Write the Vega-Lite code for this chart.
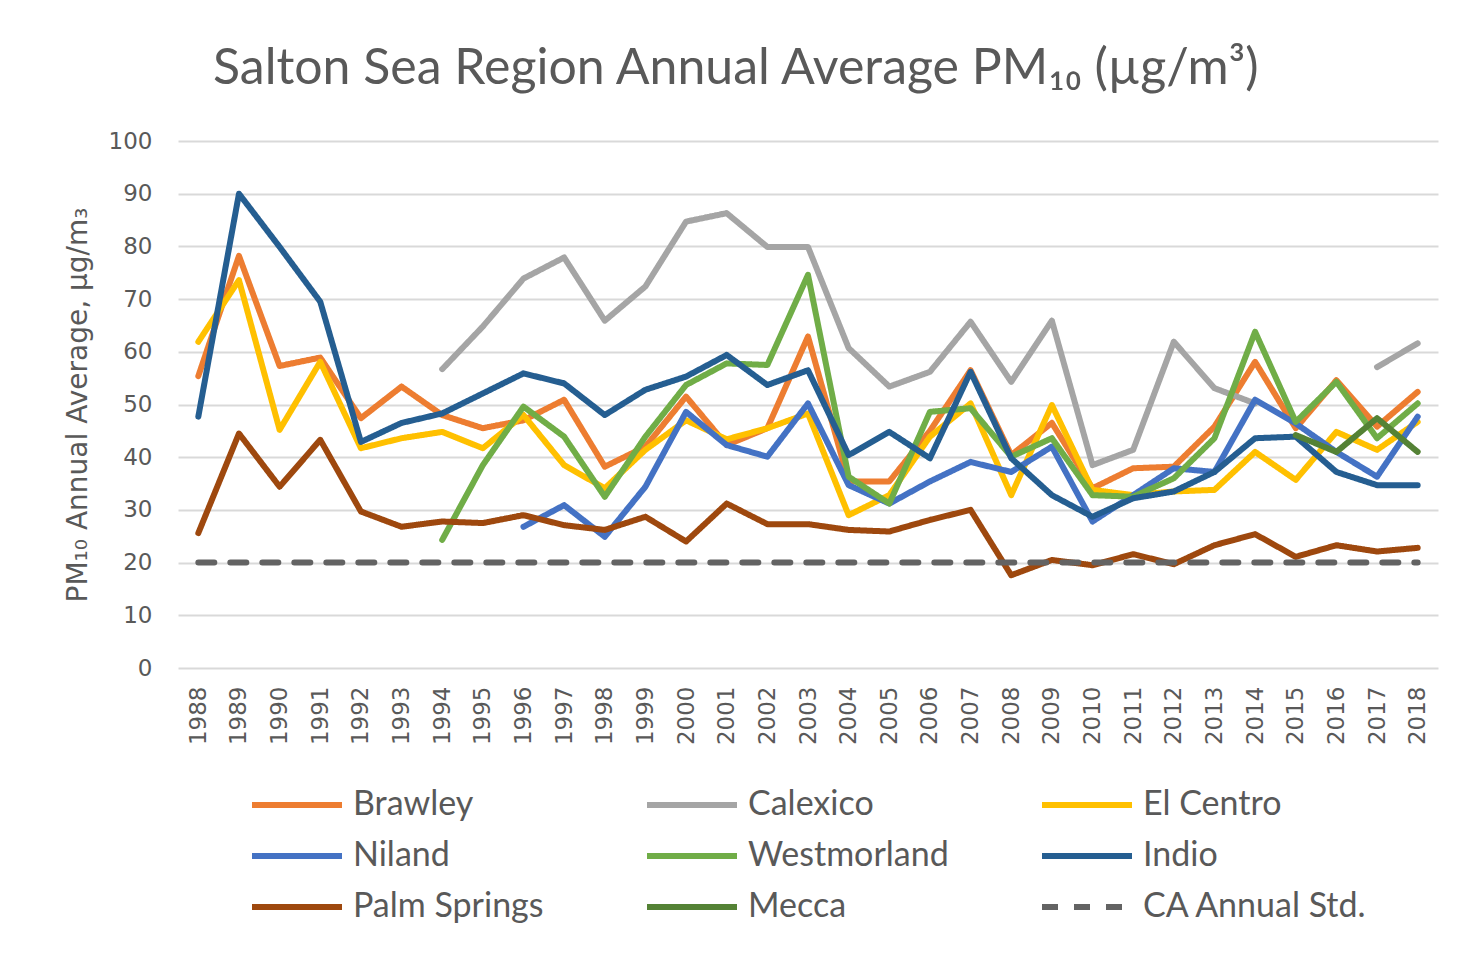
{
  "$schema": "https://vega.github.io/schema/vega-lite/v6.json",
  "width": 1260,
  "height": 527,
  "autosize": {"type": "none"},
  "padding": {"left": 178, "top": 141, "right": 24, "bottom": 310},
  "background": "white",
  "title": {
    "text": "Salton Sea Region Annual Average PM₁₀ (µg/m³)",
    "anchor": "start",
    "frame": "group",
    "dx": 35,
    "offset": 36,
    "fontSize": 50,
    "font": "Lato",
    "fontWeight": "normal",
    "color": "#595959"
  },
  "config": {
    "view": {"stroke": null}
  },
  "data": {
    "values": [
      {"year": "1988", "series": "Brawley", "value": 55.4},
      {"year": "1989", "series": "Brawley", "value": 78.2},
      {"year": "1990", "series": "Brawley", "value": 57.3},
      {"year": "1991", "series": "Brawley", "value": 58.9},
      {"year": "1992", "series": "Brawley", "value": 47.4},
      {"year": "1993", "series": "Brawley", "value": 53.4},
      {"year": "1994", "series": "Brawley", "value": 48},
      {"year": "1995", "series": "Brawley", "value": 45.5},
      {"year": "1996", "series": "Brawley", "value": 47},
      {"year": "1997", "series": "Brawley", "value": 50.9},
      {"year": "1998", "series": "Brawley", "value": 38.2},
      {"year": "1999", "series": "Brawley", "value": 42},
      {"year": "2000", "series": "Brawley", "value": 51.5},
      {"year": "2001", "series": "Brawley", "value": 42.3},
      {"year": "2002", "series": "Brawley", "value": 45.5},
      {"year": "2003", "series": "Brawley", "value": 62.9},
      {"year": "2004", "series": "Brawley", "value": 35.4},
      {"year": "2005", "series": "Brawley", "value": 35.4},
      {"year": "2006", "series": "Brawley", "value": 45},
      {"year": "2007", "series": "Brawley", "value": 56.5},
      {"year": "2008", "series": "Brawley", "value": 40.4},
      {"year": "2009", "series": "Brawley", "value": 46.5},
      {"year": "2010", "series": "Brawley", "value": 34.1},
      {"year": "2011", "series": "Brawley", "value": 37.9},
      {"year": "2012", "series": "Brawley", "value": 38.2},
      {"year": "2013", "series": "Brawley", "value": 45.8},
      {"year": "2014", "series": "Brawley", "value": 58.1},
      {"year": "2015", "series": "Brawley", "value": 45.5},
      {"year": "2016", "series": "Brawley", "value": 54.6},
      {"year": "2017", "series": "Brawley", "value": 45.8},
      {"year": "2018", "series": "Brawley", "value": 52.4},

      {"year": "1994", "series": "Calexico", "value": 56.7},
      {"year": "1995", "series": "Calexico", "value": 64.8},
      {"year": "1996", "series": "Calexico", "value": 73.9},
      {"year": "1997", "series": "Calexico", "value": 77.9},
      {"year": "1998", "series": "Calexico", "value": 65.9},
      {"year": "1999", "series": "Calexico", "value": 72.4},
      {"year": "2000", "series": "Calexico", "value": 84.7},
      {"year": "2001", "series": "Calexico", "value": 86.3},
      {"year": "2002", "series": "Calexico", "value": 79.9},
      {"year": "2003", "series": "Calexico", "value": 79.9},
      {"year": "2004", "series": "Calexico", "value": 60.7},
      {"year": "2005", "series": "Calexico", "value": 53.4},
      {"year": "2006", "series": "Calexico", "value": 56.2},
      {"year": "2007", "series": "Calexico", "value": 65.7},
      {"year": "2008", "series": "Calexico", "value": 54.3},
      {"year": "2009", "series": "Calexico", "value": 65.9},
      {"year": "2010", "series": "Calexico", "value": 38.5},
      {"year": "2011", "series": "Calexico", "value": 41.4},
      {"year": "2012", "series": "Calexico", "value": 61.9},
      {"year": "2013", "series": "Calexico", "value": 53.1},
      {"year": "2014", "series": "Calexico", "value": 50.2},
      {"year": "2015", "series": "Calexico", "value": null},
      {"year": "2016", "series": "Calexico", "value": null},
      {"year": "2017", "series": "Calexico", "value": 57.1},
      {"year": "2018", "series": "Calexico", "value": 61.6},

      {"year": "1988", "series": "El Centro", "value": 61.9},
      {"year": "1989", "series": "El Centro", "value": 73.6},
      {"year": "1990", "series": "El Centro", "value": 45.2},
      {"year": "1991", "series": "El Centro", "value": 58.1},
      {"year": "1992", "series": "El Centro", "value": 41.7},
      {"year": "1993", "series": "El Centro", "value": 43.6},
      {"year": "1994", "series": "El Centro", "value": 44.8},
      {"year": "1995", "series": "El Centro", "value": 41.7},
      {"year": "1996", "series": "El Centro", "value": 48},
      {"year": "1997", "series": "El Centro", "value": 38.5},
      {"year": "1998", "series": "El Centro", "value": 34.1},
      {"year": "1999", "series": "El Centro", "value": 41.4},
      {"year": "2000", "series": "El Centro", "value": 47},
      {"year": "2001", "series": "El Centro", "value": 43.4},
      {"year": "2002", "series": "El Centro", "value": 45.5},
      {"year": "2003", "series": "El Centro", "value": 48.3},
      {"year": "2004", "series": "El Centro", "value": 29},
      {"year": "2005", "series": "El Centro", "value": 32.8},
      {"year": "2006", "series": "El Centro", "value": 43.9},
      {"year": "2007", "series": "El Centro", "value": 50.2},
      {"year": "2008", "series": "El Centro", "value": 32.8},
      {"year": "2009", "series": "El Centro", "value": 49.9},
      {"year": "2010", "series": "El Centro", "value": 33.8},
      {"year": "2011", "series": "El Centro", "value": 32.8},
      {"year": "2012", "series": "El Centro", "value": 33.5},
      {"year": "2013", "series": "El Centro", "value": 33.8},
      {"year": "2014", "series": "El Centro", "value": 41},
      {"year": "2015", "series": "El Centro", "value": 35.7},
      {"year": "2016", "series": "El Centro", "value": 44.8},
      {"year": "2017", "series": "El Centro", "value": 41.4},
      {"year": "2018", "series": "El Centro", "value": 46.7},

      {"year": "1996", "series": "Niland", "value": 26.8},
      {"year": "1997", "series": "Niland", "value": 30.9},
      {"year": "1998", "series": "Niland", "value": 24.9},
      {"year": "1999", "series": "Niland", "value": 34.4},
      {"year": "2000", "series": "Niland", "value": 48.6},
      {"year": "2001", "series": "Niland", "value": 42.3},
      {"year": "2002", "series": "Niland", "value": 40.1},
      {"year": "2003", "series": "Niland", "value": 50.2},
      {"year": "2004", "series": "Niland", "value": 34.7},
      {"year": "2005", "series": "Niland", "value": 31.2},
      {"year": "2006", "series": "Niland", "value": 35.4},
      {"year": "2007", "series": "Niland", "value": 39.1},
      {"year": "2008", "series": "Niland", "value": 37.2},
      {"year": "2009", "series": "Niland", "value": 42},
      {"year": "2010", "series": "Niland", "value": 27.8},
      {"year": "2011", "series": "Niland", "value": 32.8},
      {"year": "2012", "series": "Niland", "value": 37.9},
      {"year": "2013", "series": "Niland", "value": 37.2},
      {"year": "2014", "series": "Niland", "value": 50.9},
      {"year": "2015", "series": "Niland", "value": 46.4},
      {"year": "2016", "series": "Niland", "value": 41},
      {"year": "2017", "series": "Niland", "value": 36.3},
      {"year": "2018", "series": "Niland", "value": 47.7},

      {"year": "1994", "series": "Westmorland", "value": 24.3},
      {"year": "1995", "series": "Westmorland", "value": 38.5},
      {"year": "1996", "series": "Westmorland", "value": 49.6},
      {"year": "1997", "series": "Westmorland", "value": 43.9},
      {"year": "1998", "series": "Westmorland", "value": 32.5},
      {"year": "1999", "series": "Westmorland", "value": 43.9},
      {"year": "2000", "series": "Westmorland", "value": 53.7},
      {"year": "2001", "series": "Westmorland", "value": 57.8},
      {"year": "2002", "series": "Westmorland", "value": 57.5},
      {"year": "2003", "series": "Westmorland", "value": 74.6},
      {"year": "2004", "series": "Westmorland", "value": 36.3},
      {"year": "2005", "series": "Westmorland", "value": 31.2},
      {"year": "2006", "series": "Westmorland", "value": 48.6},
      {"year": "2007", "series": "Westmorland", "value": 49.3},
      {"year": "2008", "series": "Westmorland", "value": 40.1},
      {"year": "2009", "series": "Westmorland", "value": 43.6},
      {"year": "2010", "series": "Westmorland", "value": 32.8},
      {"year": "2011", "series": "Westmorland", "value": 32.5},
      {"year": "2012", "series": "Westmorland", "value": 36},
      {"year": "2013", "series": "Westmorland", "value": 43.6},
      {"year": "2014", "series": "Westmorland", "value": 63.8},
      {"year": "2015", "series": "Westmorland", "value": 46.7},
      {"year": "2016", "series": "Westmorland", "value": 54.3},
      {"year": "2017", "series": "Westmorland", "value": 43.6},
      {"year": "2018", "series": "Westmorland", "value": 50.2},

      {"year": "1988", "series": "Indio", "value": 47.7},
      {"year": "1989", "series": "Indio", "value": 90},
      {"year": "1990", "series": "Indio", "value": 79.9},
      {"year": "1991", "series": "Indio", "value": 69.5},
      {"year": "1992", "series": "Indio", "value": 42.9},
      {"year": "1993", "series": "Indio", "value": 46.5},
      {"year": "1994", "series": "Indio", "value": 48.3},
      {"year": "1995", "series": "Indio", "value": 52.1},
      {"year": "1996", "series": "Indio", "value": 55.9},
      {"year": "1997", "series": "Indio", "value": 54},
      {"year": "1998", "series": "Indio", "value": 48},
      {"year": "1999", "series": "Indio", "value": 52.8},
      {"year": "2000", "series": "Indio", "value": 55.3},
      {"year": "2001", "series": "Indio", "value": 59.4},
      {"year": "2002", "series": "Indio", "value": 53.7},
      {"year": "2003", "series": "Indio", "value": 56.5},
      {"year": "2004", "series": "Indio", "value": 40.4},
      {"year": "2005", "series": "Indio", "value": 44.8},
      {"year": "2006", "series": "Indio", "value": 39.8},
      {"year": "2007", "series": "Indio", "value": 56.2},
      {"year": "2008", "series": "Indio", "value": 39.8},
      {"year": "2009", "series": "Indio", "value": 32.8},
      {"year": "2010", "series": "Indio", "value": 28.7},
      {"year": "2011", "series": "Indio", "value": 32.2},
      {"year": "2012", "series": "Indio", "value": 33.5},
      {"year": "2013", "series": "Indio", "value": 37.2},
      {"year": "2014", "series": "Indio", "value": 43.6},
      {"year": "2015", "series": "Indio", "value": 43.9},
      {"year": "2016", "series": "Indio", "value": 37.2},
      {"year": "2017", "series": "Indio", "value": 34.7},
      {"year": "2018", "series": "Indio", "value": 34.7},

      {"year": "1988", "series": "Palm Springs", "value": 25.6},
      {"year": "1989", "series": "Palm Springs", "value": 44.5},
      {"year": "1990", "series": "Palm Springs", "value": 34.4},
      {"year": "1991", "series": "Palm Springs", "value": 43.3},
      {"year": "1992", "series": "Palm Springs", "value": 29.7},
      {"year": "1993", "series": "Palm Springs", "value": 26.8},
      {"year": "1994", "series": "Palm Springs", "value": 27.8},
      {"year": "1995", "series": "Palm Springs", "value": 27.5},
      {"year": "1996", "series": "Palm Springs", "value": 29},
      {"year": "1997", "series": "Palm Springs", "value": 27.1},
      {"year": "1998", "series": "Palm Springs", "value": 26.2},
      {"year": "1999", "series": "Palm Springs", "value": 28.7},
      {"year": "2000", "series": "Palm Springs", "value": 24},
      {"year": "2001", "series": "Palm Springs", "value": 31.2},
      {"year": "2002", "series": "Palm Springs", "value": 27.3},
      {"year": "2003", "series": "Palm Springs", "value": 27.3},
      {"year": "2004", "series": "Palm Springs", "value": 26.2},
      {"year": "2005", "series": "Palm Springs", "value": 25.9},
      {"year": "2006", "series": "Palm Springs", "value": 28.1},
      {"year": "2007", "series": "Palm Springs", "value": 30},
      {"year": "2008", "series": "Palm Springs", "value": 17.6},
      {"year": "2009", "series": "Palm Springs", "value": 20.5},
      {"year": "2010", "series": "Palm Springs", "value": 19.5},
      {"year": "2011", "series": "Palm Springs", "value": 21.6},
      {"year": "2012", "series": "Palm Springs", "value": 19.7},
      {"year": "2013", "series": "Palm Springs", "value": 23.3},
      {"year": "2014", "series": "Palm Springs", "value": 25.4},
      {"year": "2015", "series": "Palm Springs", "value": 21.1},
      {"year": "2016", "series": "Palm Springs", "value": 23.3},
      {"year": "2017", "series": "Palm Springs", "value": 22.1},
      {"year": "2018", "series": "Palm Springs", "value": 22.8},

      {"year": "2015", "series": "Mecca", "value": 44.2},
      {"year": "2016", "series": "Mecca", "value": 41},
      {"year": "2017", "series": "Mecca", "value": 47.4},
      {"year": "2018", "series": "Mecca", "value": 41},

      {"year": "1988", "series": "CA Annual Std.", "value": 20},
      {"year": "1989", "series": "CA Annual Std.", "value": 20},
      {"year": "1990", "series": "CA Annual Std.", "value": 20},
      {"year": "1991", "series": "CA Annual Std.", "value": 20},
      {"year": "1992", "series": "CA Annual Std.", "value": 20},
      {"year": "1993", "series": "CA Annual Std.", "value": 20},
      {"year": "1994", "series": "CA Annual Std.", "value": 20},
      {"year": "1995", "series": "CA Annual Std.", "value": 20},
      {"year": "1996", "series": "CA Annual Std.", "value": 20},
      {"year": "1997", "series": "CA Annual Std.", "value": 20},
      {"year": "1998", "series": "CA Annual Std.", "value": 20},
      {"year": "1999", "series": "CA Annual Std.", "value": 20},
      {"year": "2000", "series": "CA Annual Std.", "value": 20},
      {"year": "2001", "series": "CA Annual Std.", "value": 20},
      {"year": "2002", "series": "CA Annual Std.", "value": 20},
      {"year": "2003", "series": "CA Annual Std.", "value": 20},
      {"year": "2004", "series": "CA Annual Std.", "value": 20},
      {"year": "2005", "series": "CA Annual Std.", "value": 20},
      {"year": "2006", "series": "CA Annual Std.", "value": 20},
      {"year": "2007", "series": "CA Annual Std.", "value": 20},
      {"year": "2008", "series": "CA Annual Std.", "value": 20},
      {"year": "2009", "series": "CA Annual Std.", "value": 20},
      {"year": "2010", "series": "CA Annual Std.", "value": 20},
      {"year": "2011", "series": "CA Annual Std.", "value": 20},
      {"year": "2012", "series": "CA Annual Std.", "value": 20},
      {"year": "2013", "series": "CA Annual Std.", "value": 20},
      {"year": "2014", "series": "CA Annual Std.", "value": 20},
      {"year": "2015", "series": "CA Annual Std.", "value": 20},
      {"year": "2016", "series": "CA Annual Std.", "value": 20},
      {"year": "2017", "series": "CA Annual Std.", "value": 20},
      {"year": "2018", "series": "CA Annual Std.", "value": 20}
    ]
  },
  "mark": {
    "type": "line",
    "strokeWidth": 6,
    "strokeCap": "round",
    "strokeJoin": "round",
    "invalid": "break-paths-show-domains"
  },
  "encoding": {
    "x": {
      "field": "year",
      "type": "ordinal",
      "scale": {"type": "point", "padding": 0.5},
      "axis": {
        "title": null,
        "labelAngle": -90,
        "labelAlign": "right",
        "labelBaseline": "middle",
        "labelPadding": 18,
        "labelFont": "DejaVu Sans",
        "labelFontSize": 23,
        "labelColor": "#595959",
        "ticks": false,
        "domain": false,
        "grid": false
      }
    },
    "y": {
      "field": "value",
      "type": "quantitative",
      "scale": {"domain": [0, 100], "nice": false, "zero": true},
      "axis": {
        "title": "PM₁₀ Annual Average, µg/m₃",
        "titleFont": "DejaVu Sans",
        "titleFontSize": 28,
        "titleFontWeight": "normal",
        "titleColor": "#595959",
        "titlePadding": 16,
        "values": [0, 10, 20, 30, 40, 50, 60, 70, 80, 90, 100],
        "labelFont": "DejaVu Sans",
        "labelFontSize": 23,
        "labelColor": "#595959",
        "labelPadding": 26,
        "ticks": false,
        "domain": false,
        "grid": true,
        "gridColor": "#d9d9d9",
        "gridWidth": 2
      }
    },
    "color": {
      "field": "series",
      "type": "nominal",
      "scale": {
        "domain": ["Brawley", "Calexico", "El Centro", "Niland", "Westmorland", "Indio", "Palm Springs", "Mecca", "CA Annual Std."],
        "range": ["#ED7D31", "#A5A5A5", "#FFC000", "#4472C4", "#70AD47", "#255E91", "#9E480E", "#548235", "#636363"]
      },
      "legend": {
        "orient": "none",
        "legendX": 71,
        "legendY": 644,
        "direction": "horizontal",
        "columns": 3,
        "title": null,
        "symbolType": "stroke",
        "symbolSize": 8100,
        "symbolStrokeWidth": 6,
        "labelFont": "Lato",
        "labelFontSize": 34,
        "labelColor": "#595959",
        "labelOffset": 8,
        "labelLimit": 0,
        "clipHeight": 40,
        "columnPadding": 66,
        "rowPadding": 11,
        "gridAlign": "all",
        "padding": 0
      }
    },
    "strokeDash": {
      "field": "series",
      "type": "nominal",
      "scale": {
        "domain": ["Brawley", "Calexico", "El Centro", "Niland", "Westmorland", "Indio", "Palm Springs", "Mecca", "CA Annual Std."],
        "range": [[1, 0], [1, 0], [1, 0], [1, 0], [1, 0], [1, 0], [1, 0], [1, 0], [16, 16]]
      }
    }
  }
}
